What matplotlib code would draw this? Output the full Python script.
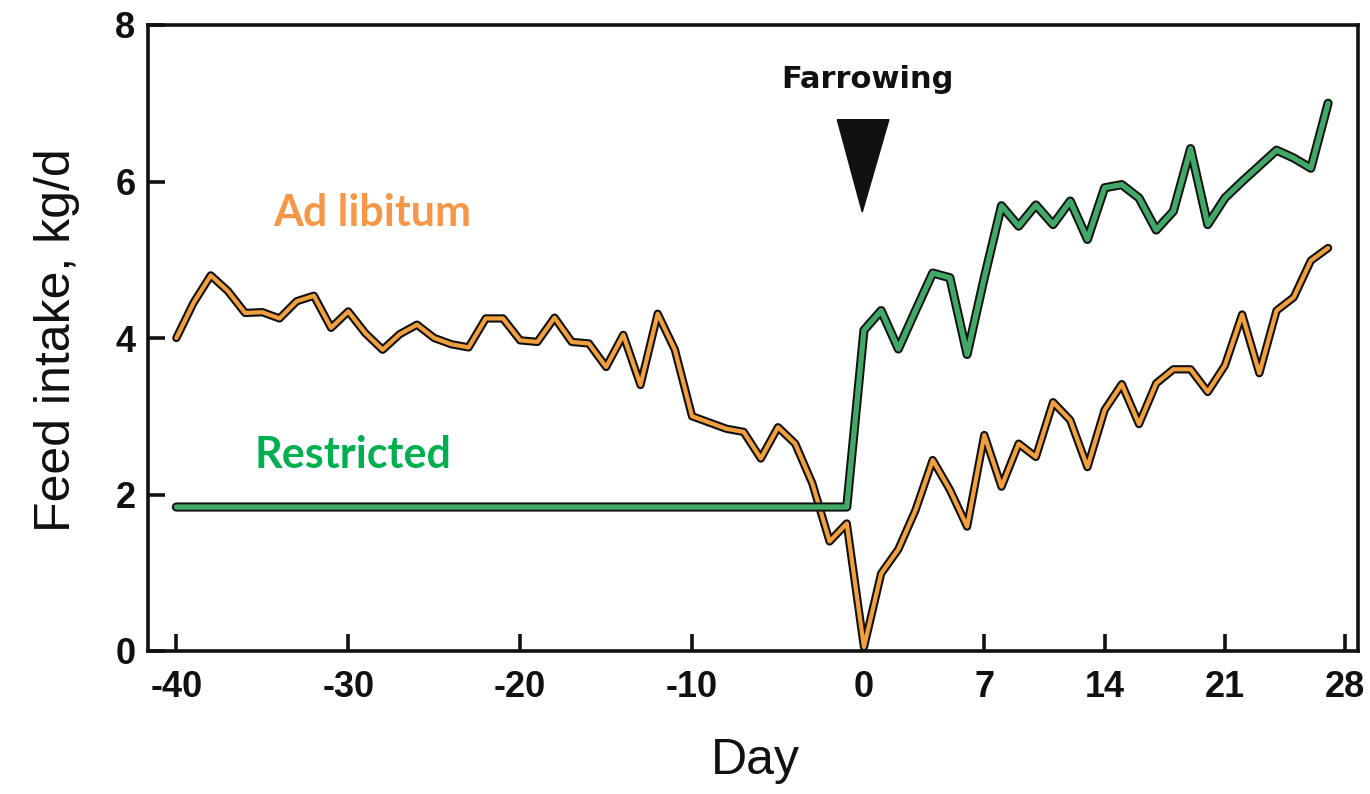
import numpy as np
import matplotlib
matplotlib.use("Agg")
import matplotlib.pyplot as plt
import matplotlib.patheffects as pe
from matplotlib.font_manager import FontProperties

plt.rcParams["axes.unicode_minus"] = False

# Daily feed intake (kg/d) around farrowing (day 0)
days = list(range(-40, 28))

ad_libitum = [
    4.00, 4.45, 4.80, 4.60, 4.32, 4.33, 4.25, 4.47, 4.54, 4.13,   # -40 .. -31
    4.34, 4.06, 3.85, 4.05, 4.17, 4.00, 3.92, 3.88, 4.25, 4.25,   # -30 .. -21
    3.97, 3.95, 4.26, 3.95, 3.93, 3.63, 4.04, 3.40, 4.31, 3.85,   # -20 .. -11
    3.00, 2.92, 2.84, 2.80, 2.46, 2.86, 2.65, 2.14, 1.40, 1.63,   # -10 .. -1
    0.05, 0.99, 1.30, 1.80, 2.44, 2.06, 1.59, 2.76, 2.10, 2.65,   #   0 .. 9
    2.48, 3.18, 2.95, 2.35, 3.08, 3.41, 2.90, 3.42, 3.60, 3.60,   #  10 .. 19
    3.31, 3.65, 4.30, 3.55, 4.35, 4.52, 4.99, 5.15,               #  20 .. 27
]

restricted = [
    1.84, 1.84, 1.84, 1.84, 1.84, 1.84, 1.84, 1.84, 1.84, 1.84,   # -40 .. -31
    1.84, 1.84, 1.84, 1.84, 1.84, 1.84, 1.84, 1.84, 1.84, 1.84,   # -30 .. -21
    1.84, 1.84, 1.84, 1.84, 1.84, 1.84, 1.84, 1.84, 1.84, 1.84,   # -20 .. -11
    1.84, 1.84, 1.84, 1.84, 1.84, 1.84, 1.84, 1.84, 1.84, 1.84,   # -10 .. -1
    4.10, 4.35, 3.86, 4.35, 4.83, 4.77, 3.79, 4.77, 5.69, 5.43,   #   0 .. 9
    5.70, 5.45, 5.75, 5.26, 5.92, 5.96, 5.79, 5.38, 5.62, 6.42,   #  10 .. 19
    5.45, 5.79, 6.00, 6.20, 6.40, 6.30, 6.17, 7.00,               #  20 .. 27
]

x_ticks = [-40, -30, -20, -10, 0, 7, 14, 21, 28]
y_ticks = [0, 2, 4, 6, 8]
farrowing_day = 0

LINE_ORANGE = "#F2A03D"
LINE_GREEN = "#41A868"
TEXT_ORANGE = "#F79646"
TEXT_GREEN = "#00B050"
INK = "#111111"

W, H = 1370, 794
fig = plt.figure(figsize=(W / 100, H / 100), dpi=100)
fig.patch.set_facecolor("white")
ax = fig.add_axes([148 / W, 1 - 651 / H, (1358 - 148) / W, (651 - 25) / H])

ax.plot(days, ad_libitum, color=LINE_ORANGE, lw=3.0, solid_joinstyle="round",
        solid_capstyle="round", zorder=3,
        path_effects=[pe.Stroke(linewidth=6.0, foreground=INK), pe.Normal()])
ax.plot(days, restricted, color=LINE_GREEN, lw=3.8, solid_joinstyle="round",
        solid_capstyle="round", zorder=4,
        path_effects=[pe.Stroke(linewidth=6.6, foreground=INK), pe.Normal()])

ax.set_xlim(-41.65, 28.74)
ax.set_ylim(0, 8)
ax.set_xticks(x_ticks)
ax.set_yticks(y_ticks)

for s in ax.spines.values():
    s.set_linewidth(2.6)
    s.set_color(INK)

ax.tick_params(axis="both", direction="in", length=12, width=2.6, color=INK,
               labelcolor=INK)
ax.tick_params(axis="x", pad=14)
ax.tick_params(axis="y", pad=9)
tick_fp = FontProperties(family=["Liberation Sans", "DejaVu Sans"], weight="bold", size=26)
for lab in ax.get_xticklabels() + ax.get_yticklabels():
    lab.set_fontproperties(tick_fp)

label_font = dict(family=["Liberation Sans", "DejaVu Sans"], size=36, color=INK)
ax.set_xlabel("Day", **label_font)
ax.xaxis.set_label_coords((755 - 148) / 1210, (651 - 738) / 626)
ax.set_ylabel("Feed intake, kg/d", **label_font)
ax.yaxis.set_label_coords((80 - 148) / 1210, 0.497)

# Farrowing marker
tri_x = [farrowing_day - 1.55, farrowing_day + 1.45, farrowing_day - 0.1]
tri_y = [6.79, 6.79, 5.61]
ax.fill(tri_x, tri_y, color=INK, zorder=5, clip_on=False)
ax.text(farrowing_day + 0.2, 7.3, "Farrowing", ha="center", va="center",
        family=["DejaVu Sans"], weight="bold", size=22, color=INK)

# Series labels
ax.text(-28.6, 5.6, "Ad libitum", ha="center", va="center",
        family=["Lato", "DejaVu Sans"], weight="bold", size=31, color=TEXT_ORANGE)
ax.text(-29.7, 2.5, "Restricted", ha="center", va="center",
        family=["Lato", "DejaVu Sans"], weight="bold", size=31, color=TEXT_GREEN)

fig.savefig("out.png", dpi=100, facecolor="white")
